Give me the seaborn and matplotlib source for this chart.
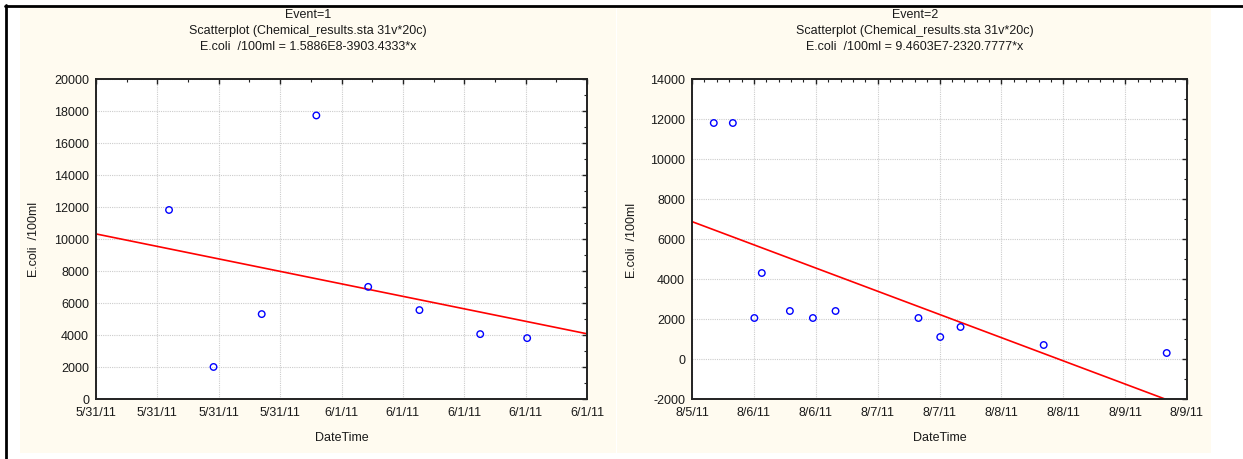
import matplotlib
matplotlib.use("Agg")
import matplotlib.pyplot as plt
import numpy as np
import pandas as pd
import seaborn as sns
from matplotlib.patches import Rectangle
from matplotlib.lines import Line2D
from matplotlib.ticker import AutoMinorLocator, MultipleLocator

# ---------------- data ----------------
# x = days since midnight of the first date shown on each axis
ev1_days = [0.538, 0.683, 0.840, 1.018, 1.187, 1.354, 1.552, 1.705]
ev1_ecoli = [11800, 2000, 5300, 17700, 7000, 5550, 4050, 3800]
ev1_xticks = [0.3, 0.5, 0.7, 0.9, 1.1, 1.3, 1.5, 1.7, 1.9]
ev1_xticklabels = ["5/31/11", "5/31/11", "5/31/11", "5/31/11",
                   "6/1/11", "6/1/11", "6/1/11", "6/1/11", "6/1/11"]
ev1_ylim = [0, 20000]

ev2_days = [0.676, 0.830, 1.004, 1.064, 1.291, 1.477, 1.660,
            2.330, 2.506, 2.670, 3.342, 4.336]
ev2_ecoli = [11800, 11800, 2050, 4300, 2400, 2050, 2400,
             2050, 1100, 1600, 700, 300]
ev2_xticks = [0.5, 1.0, 1.5, 2.0, 2.5, 3.0, 3.5, 4.0, 4.5]
ev2_xticklabels = ["8/5/11", "8/6/11", "8/6/11", "8/7/11", "8/7/11",
                   "8/8/11", "8/8/11", "8/9/11", "8/9/11"]
ev2_ylim = [-2000, 14000]

titles = [
    ["Event=1", "Scatterplot (Chemical_results.sta 31v*20c)",
     "E.coli  /100ml = 1.5886E8-3903.4333*x"],
    ["Event=2", "Scatterplot (Chemical_results.sta 31v*20c)",
     "E.coli  /100ml = 9.4603E7-2320.7777*x"],
]
x_label = "DateTime"
y_label = "E.coli  /100ml"

df1 = pd.DataFrame({"DateTime": ev1_days, "ecoli": ev1_ecoli})
df2 = pd.DataFrame({"DateTime": ev2_days, "ecoli": ev2_ecoli})

# ---------------- style ----------------
sns.set_style("white")
plt.rcParams["font.family"] = ["Liberation Sans", "DejaVu Sans"]
plt.rcParams["font.size"] = 9
plt.rcParams["axes.unicode_minus"] = False
TXT = "#1a1a1a"

W, H = 1243, 460
fig = plt.figure(figsize=(W / 100, H / 100), dpi=100)
fig.patch.set_facecolor("white")

cream = "#FFFBF0"
fig.add_artist(Rectangle((20 / W, 1 - 454 / H), (616 - 20) / W, (454 - 9) / H,
                         transform=fig.transFigure, facecolor=cream,
                         edgecolor="none", zorder=0))
fig.add_artist(Rectangle((617 / W, 1 - 454 / H), (1211 - 617) / W, (454 - 9) / H,
                         transform=fig.transFigure, facecolor=cream,
                         edgecolor="none", zorder=0))
# black frame lines (top and left)
fig.add_artist(Line2D([5 / W, 1.0], [1 - 6.5 / H, 1 - 6.5 / H],
                      transform=fig.transFigure, color="black", lw=2.0))
fig.add_artist(Line2D([6 / W, 6 / W], [0, 1 - 5.5 / H],
                      transform=fig.transFigure, color="black", lw=2.0))

panels = [
    dict(df=df1, box=(96, 79.6, 587, 400), xticks=ev1_xticks,
         xlabels=ev1_xticklabels, ylim=ev1_ylim, xminor=2, title_x=308,
         ylab_x=34),
    dict(df=df2, box=(692, 80, 1187, 400), xticks=ev2_xticks,
         xlabels=ev2_xticklabels, ylim=ev2_ylim, xminor=5, title_x=915,
         ylab_x=632),
]

for i, p in enumerate(panels):
    x0, y0, x1, y1 = p["box"]
    ax = fig.add_axes([x0 / W, 1 - y1 / H, (x1 - x0) / W, (y1 - y0) / H])
    ax.set_facecolor("white")
    ax.set_xlim(p["xticks"][0], p["xticks"][-1])
    ax.set_ylim(*p["ylim"])
    sns.regplot(data=p["df"], x="DateTime", y="ecoli", ax=ax, ci=None,
                truncate=False, color="blue",
                scatter_kws=dict(s=22, facecolors="none", edgecolors="#0000FF",
                                 linewidths=1.0, alpha=1, zorder=3),
                line_kws=dict(color="#FF0000", lw=1.2, zorder=2))
    ax.set_xlim(p["xticks"][0], p["xticks"][-1])
    ax.set_ylim(*p["ylim"])
    ax.set_xticks(p["xticks"])
    ax.set_xticklabels(p["xlabels"])
    ax.yaxis.set_major_locator(MultipleLocator(2000))
    ax.xaxis.set_minor_locator(AutoMinorLocator(p["xminor"]))
    ax.yaxis.set_minor_locator(AutoMinorLocator(2))
    ax.grid(True, which="major", color="#cccccc", linestyle=(0, (1, 1)), lw=0.8)
    ax.set_axisbelow(True)
    for s in ax.spines.values():
        s.set_color("#222222")
        s.set_linewidth(1.4)
    ax.tick_params(which="both", direction="in", top=True, right=True,
                   colors="#222222", labelcolor=TXT, labelsize=9)
    ax.tick_params(which="major", length=3.5, width=1)
    ax.tick_params(which="minor", length=2.2, width=0.8)
    ax.tick_params(axis="x", pad=5)
    ax.tick_params(axis="y", pad=5)
    ax.set_xlabel("")
    ax.set_ylabel("")
    # axis labels
    fig.text(((x0 + x1) / 2) / W, 1 - 438 / H, x_label, ha="center",
             va="center", fontsize=9, color=TXT)
    fig.text(p["ylab_x"] / W, 1 - ((y0 + y1) / 2) / H, y_label, ha="center",
             va="center", rotation=90, fontsize=9, color=TXT)
    # titles
    for j, t in enumerate(titles[i]):
        fig.text(p["title_x"] / W, 1 - (15 + 16 * j) / H, t, ha="center",
                 va="center", fontsize=9, color=TXT)

fig.savefig("out.png", dpi=100, facecolor="white")
